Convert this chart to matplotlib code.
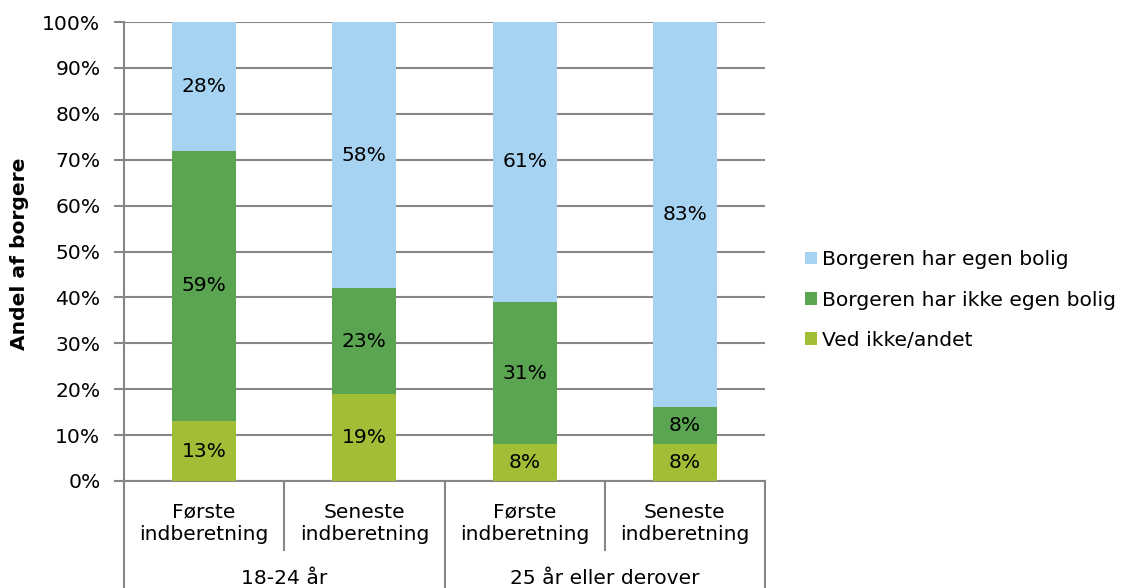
import matplotlib
matplotlib.use('Agg')
import matplotlib.pyplot as plt
import matplotlib.transforms as mtransforms
import numpy as np

# Andel af borgere fordelt på boligsituation
bar_labels = ['Første\nindberetning', 'Seneste\nindberetning',
              'Første\nindberetning', 'Seneste\nindberetning']
groups = ['18-24 år', '25 år eller derover']
series = ['Ved ikke/andet', 'Borgeren har ikke egen bolig', 'Borgeren har egen bolig']
ved_ikke = [13, 19, 8, 8]
ikke_egen = [59, 23, 31, 8]
egen = [28, 58, 61, 83]

colors = ['#a2be37', '#5ba552', '#a7d3f3']
grey = '#868686'
FS = 14.6

plt.rcParams['font.family'] = 'DejaVu Sans'

fig = plt.figure(figsize=(11.34, 5.88), dpi=100)
ax = fig.add_axes([124 / 1134, 1 - 481 / 588, 641 / 1134, 459 / 588])

# 100% stablede søjler
vals = np.array([ved_ikke, ikke_egen, egen], dtype=float)
shares = vals / vals.sum(axis=0) * 100
x = np.arange(len(bar_labels))
bottom = np.zeros(len(x))
bars = []
for i in range(len(series)):
    b = ax.bar(x, shares[i], 0.4, bottom=bottom, color=colors[i], zorder=3)
    bars.append(b)
    for j in range(len(x)):
        ax.text(x[j], bottom[j] + shares[i][j] / 2, '%d%%' % vals[i][j],
                ha='center', va='center', fontsize=FS, color='black', zorder=4)
    bottom += shares[i]

ax.set_xlim(-0.5, len(x) - 0.5)
ax.set_ylim(0, 100)
ax.set_yticks(range(0, 101, 10))
ax.set_yticklabels(['%d%%' % v for v in range(0, 101, 10)], fontsize=FS)
ax.tick_params(axis='y', length=7, width=1.5, color=grey, pad=10)
ax.set_xticks([])
ax.yaxis.grid(True, color=grey, linewidth=1.5, zorder=0)
for s in ['top', 'right']:
    ax.spines[s].set_visible(False)
ax.spines['left'].set_color(grey)
ax.spines['left'].set_linewidth(1.5)
ax.spines['bottom'].set_color(grey)
ax.spines['bottom'].set_linewidth(1.5)

fig.text(20 / 1134, 1 - 254 / 588, 'Andel af borgere', rotation=90,
         ha='center', va='center', fontsize=FS, fontweight='bold')

# Kategoriakse i to niveauer
trans = mtransforms.blended_transform_factory(ax.transData, ax.transAxes)
for j in range(len(x)):
    ax.text(x[j], -0.092, bar_labels[j], transform=trans, ha='center', va='center',
            fontsize=FS, linespacing=1.2)
for k, g in enumerate(groups):
    ax.text(2 * k + 0.5, -0.212, g, transform=trans, ha='center', va='center', fontsize=FS)

for xv in [0.5, 2.5]:
    ax.plot([xv, xv], [0, -0.15], transform=trans, color=grey, lw=1.5, clip_on=False)
for xv in [-0.5, 1.5, 3.5]:
    ax.plot([xv, xv], [0, -0.24], transform=trans, color=grey, lw=1.5, clip_on=False)

handles = [bars[2], bars[1], bars[0]]
names = [series[2], series[1], series[0]]
fig.legend(handles, names, loc='center left', bbox_to_anchor=(797 / 1134, 1 - 300 / 588),
           frameon=False, fontsize=FS, handlelength=0.6, handleheight=0.6,
           handletextpad=0.25, labelspacing=1.05, borderaxespad=0)

fig.savefig('out.png', dpi=100)
